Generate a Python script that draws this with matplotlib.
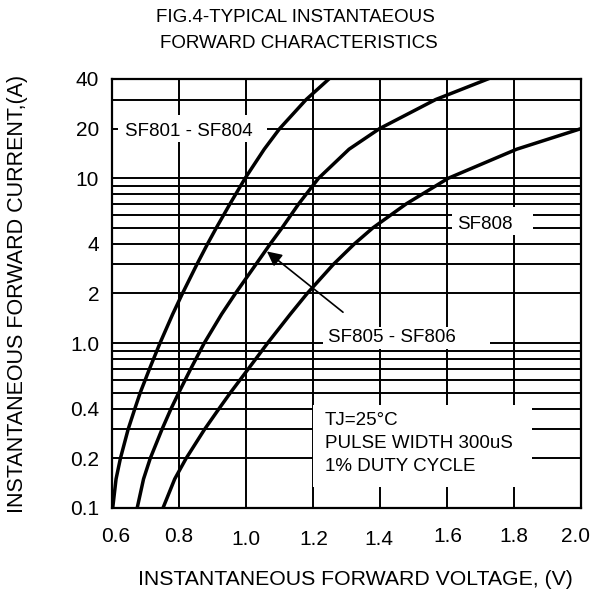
import matplotlib
matplotlib.use("Agg")
import matplotlib.pyplot as plt
from matplotlib.patches import Rectangle
from matplotlib.ticker import FixedLocator, LogLocator, NullFormatter
from matplotlib.transforms import ScaledTranslation

plt.rcParams['font.family'] = ['Liberation Sans', 'DejaVu Sans']

# ---- data ----
# SF801 - SF804
i_sf801 = [0.1, 0.15, 0.2, 0.3, 0.4, 0.5, 0.7, 1.0, 1.5, 2.0, 3.0, 4.0, 5.0, 7.0, 10.0, 15.0, 20.0, 30.0, 40.0]
v_sf801 = [0.603, 0.613, 0.626, 0.649, 0.669, 0.685, 0.713, 0.744, 0.782, 0.811, 0.854, 0.886, 0.912,
           0.953, 0.998, 1.055, 1.101, 1.180, 1.248]
# SF805 - SF806
i_sf805 = [0.1, 0.15, 0.2, 0.3, 0.4, 0.5, 0.7, 1.0, 1.5, 2.0, 3.0, 4.0, 5.0, 7.0, 10.0, 15.0, 20.0, 30.0, 40.0]
v_sf805 = [0.676, 0.695, 0.715, 0.750, 0.777, 0.800, 0.836, 0.876, 0.928, 0.969, 1.030, 1.073, 1.108,
           1.158, 1.217, 1.308, 1.399, 1.566, 1.722]
# SF808
i_sf808 = [0.1, 0.15, 0.2, 0.3, 0.4, 0.5, 0.7, 1.0, 1.5, 2.0, 3.0, 4.0, 5.0, 7.0, 10.0, 15.0, 20.0]
v_sf808 = [0.753, 0.788, 0.822, 0.877, 0.920, 0.954, 1.008, 1.065, 1.133, 1.183, 1.261, 1.324, 1.379,
           1.479, 1.604, 1.808, 2.000]

x_ticks = [0.6, 0.8, 1.0, 1.2, 1.4, 1.6, 1.8, 2.0]
x_tick_labels = ['0.6', '0.8', '1.0', '1.2', '1.4', '1.6', '1.8', '2.0']
y_ticks = [0.1, 0.2, 0.4, 1.0, 2, 4, 10, 20, 40]
y_tick_labels = ['0.1', '0.2', '0.4', '1.0', '2', '4', '10', '20', '40']

title_lines = ['FIG.4-TYPICAL INSTANTAEOUS', 'FORWARD CHARACTERISTICS']
xlabel = 'INSTANTANEOUS FORWARD VOLTAGE, (V)'
ylabel = 'INSTANTANEOUS FORWARD CURRENT,(A)'
note_lines = ['TJ=25°C', 'PULSE WIDTH 300uS', '1% DUTY CYCLE']

# ---- figure ----
fig = plt.figure(figsize=(5.92, 5.93), dpi=100)
ax = fig.add_axes([0.18868, 0.14334, 0.79274, 0.72344])

ax.set_xlim(0.6, 2.0)
ax.set_yscale('log')
ax.set_ylim(0.1, 40)

ax.xaxis.set_major_locator(FixedLocator(x_ticks))
ax.set_xticklabels(x_tick_labels)
ax.yaxis.set_major_locator(FixedLocator(y_ticks))
ax.set_yticklabels(y_tick_labels)
ax.yaxis.set_minor_locator(LogLocator(base=10, subs=[2, 3, 4, 5, 6, 7, 8, 9]))
ax.yaxis.set_minor_formatter(NullFormatter())

ax.tick_params(axis='both', which='both', length=0)
ax.tick_params(axis='x', labelsize=15, pad=14)
ax.tick_params(axis='y', labelsize=15, pad=9)

# small per-label offsets as in the reference (pixels)
x_label_shift = [(4, 0), (0, 0), (0, -3), (1, -3), (-1, -3), (1, 0), (0, 0), (-6, 0)]
for lab, (dx, dy) in zip(ax.get_xticklabels(), x_label_shift):
    lab.set_transform(lab.get_transform() + ScaledTranslation(dx / 100, dy / 100, fig.dpi_scale_trans))

ax.grid(True, which='major', axis='x', color='black', lw=1.4)
ax.grid(True, which='both', axis='y', color='black', lw=1.4)
ax.set_axisbelow(True)
for s in ax.spines.values():
    s.set_linewidth(1.6)
    s.set_color('black')

for v, i in [(v_sf801, i_sf801), (v_sf805, i_sf805), (v_sf808, i_sf808)]:
    ax.plot(v, i, color='black', lw=2.5, zorder=4, solid_joinstyle='round')

# white label boxes (axes fraction)
def white_box(x0, y0, x1, y1):
    ax.add_patch(Rectangle((x0, y0), x1 - x0, y1 - y0, transform=ax.transAxes,
                           facecolor='white', edgecolor='none', zorder=3))

white_box(0.0134, 0.8531, 0.3309, 0.9161)
ax.text(0.0283, 0.8772, 'SF801 - SF804', transform=ax.transAxes, fontsize=13.5,
        ha='left', va='center', zorder=5)

white_box(0.7251, 0.6364, 0.8977, 0.7016)
ax.text(0.7358, 0.6620, 'SF808', transform=ax.transAxes, fontsize=13.5,
        ha='left', va='center', zorder=5)

white_box(0.4501, 0.3706, 0.8061, 0.4219)
ax.text(0.4609, 0.3986, 'SF805 - SF806', transform=ax.transAxes, fontsize=13.5,
        ha='left', va='center', zorder=5)

white_box(0.4289, 0.0490, 0.8956, 0.2401)
for ty, line in zip([0.2051, 0.1515, 0.0956], note_lines):
    ax.text(0.4545, ty, line, transform=ax.transAxes, fontsize=13.5,
            ha='left', va='center', zorder=5)

# arrow pointing at SF805 - SF806 curve
ax.annotate('', xy=(1.063, 3.6), xytext=(1.290, 1.54),
            arrowprops=dict(arrowstyle='-|>', color='black', lw=1.2,
                            mutation_scale=22, shrinkA=0, shrinkB=0),
            zorder=5)

# labels
ax.set_xlabel(xlabel, fontsize=15.3, va='center', ha='center')
ax.xaxis.set_label_coords(0.5195, -0.1678)
ax.set_ylabel(ylabel, fontsize=15.5, va='center', ha='center', rotation_mode='anchor')
ax.yaxis.set_label_coords(-0.1997, 0.4988)

fig.text(295.5 / 592, 1 - 17.5 / 593, title_lines[0], fontsize=13.5, ha='center', va='center')
fig.text(299 / 592, 1 - 44 / 593, title_lines[1], fontsize=13.5, ha='center', va='center')

fig.savefig('out.png', dpi=100)
